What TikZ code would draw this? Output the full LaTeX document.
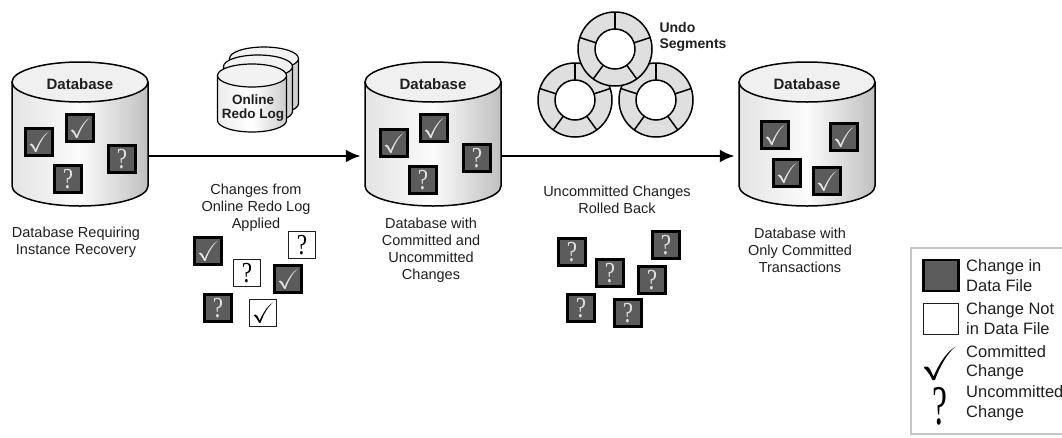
\documentclass[tikz,border=0pt]{standalone}
\usepackage{fontspec}
\setmainfont{Liberation Sans}
\newfontfamily\markfont{Liberation Serif}
\usetikzlibrary{calc, arrows.meta, positioning}

\definecolor{changegray}{gray}{0.36}
\definecolor{markpale}{gray}{0.88}
\definecolor{inkgray}{gray}{0.12}

\newcommand{\ask}{\scalebox{0.8}[1]{?}}

\tikzset{
  dbbody/.style={draw=black, line width=1.5pt, left color=gray!22, right color=gray!50, middle color=gray!3},
  dbtop/.style={draw=black, line width=1.5pt, fill=gray!12},
  dbname/.style={font=\bfseries\fontsize{15}{17}\selectfont, text=inkgray},
  dbframe/.style={inner sep=0pt, minimum width=136pt, minimum height=146pt},
  logbody/.style={draw=black, line width=1.2pt, left color=gray!15, right color=gray!40, middle color=white},
  logtop/.style={draw=black, line width=1.2pt, fill=gray!10},
  logname/.style={align=center, font=\bfseries\fontsize{13.5}{14.5}\selectfont, text=inkgray},
  change/.style={inner sep=0pt, minimum size=27pt, font=\markfont\fontsize{29}{30}\selectfont},
  indata/.style={change, draw=black, line width=2.6pt, fill=changegray, text=markpale},
  notindata/.style={change, draw=inkgray, line width=1.8pt, fill=white, text=black},
  flow/.style={line width=2.8pt, shorten >=4pt, -{Latex[length=15pt, width=13pt]}},
  caption/.style={align=center, text=inkgray, font=\fontsize{14.5}{17}\selectfont},
  segment/.style={draw=black, line width=1.5pt},
  key/.style={align=left, anchor=west, inner sep=0pt, text=inkgray, font=\fontsize{16.5}{19.5}\selectfont},
  tick/.pic={
    \fill[scale=28] (-0.33,0.08) .. controls (-0.29,0.03) and (-0.23,0.05) .. (-0.19,0.12)
      -- (-0.12,0.27) .. controls (0.00,0.00) and (0.15,-0.25) .. (0.35,-0.37)
      .. controls (0.17,-0.22) and (0.02,0.05) .. (-0.09,0.35)
      -- (-0.14,0.35) .. controls (-0.19,0.24) and (-0.25,0.15) .. (-0.33,0.08) -- cycle;
  }
}

\begin{document}
\begin{tikzpicture}[x=1pt, y=-1pt]
  \useasboundingbox (0,0) rectangle (1062,437);
  \clip (0,0) rectangle (1062,437);

  \def\dbr{68}
  \def\dbry{20}
  \def\dbtop{82}
  \def\dbh{104}

  \foreach \name/\cx in {db1/80, db2/433, db3/807} {
    \draw[dbbody] (\cx-\dbr,\dbtop) -- (\cx-\dbr,\dbtop+\dbh)
      arc[start angle=180, end angle=0, x radius=\dbr, y radius=\dbry] -- (\cx+\dbr,\dbtop);
    \draw[dbtop] (\cx,\dbtop) ellipse[x radius=\dbr, y radius=\dbry];
    \node[dbname] at (\cx,\dbtop+2) {Database};
    \node[dbframe] (\name) at (\cx,134) {};
  }

  % redo log files, back to front
  \foreach \dx/\dy in {12/-17, 6/-9, 0/0} {
    \begin{scope}[shift={(252+\dx,75.5+\dy)}]
      \draw[logbody] (-34.5,0) -- (-34.5,45)
        arc[start angle=180, end angle=0, x radius=34.5, y radius=11.5] -- (34.5,0);
      \draw[logtop] (0,0) ellipse[x radius=34.5, y radius=11.5];
    \end{scope}
  }
  \node[logname] (redo log) at (253,108) {Online\\Redo Log};

  % undo segments
  \foreach \name/\pos in {undo left/{575,100}, undo right/{656,100}, undo top/{615,49}} {
    \begin{scope}[shift={(\pos)}]
      \draw[segment, fill=gray!25] (0,0) circle[radius=37];
      \draw[segment, fill=white] (0,0) circle[radius=20];
      \foreach \a in {-90,-18,54,126,198}
        \draw[segment] (\a:20) -- (\a:37);
    \end{scope}
    \coordinate (\name) at (\pos);
  }
  \node[anchor=west, align=left, text=inkgray, font=\bfseries\fontsize{14}{15.5}\selectfont]
    (undo label) at (656,37) {Undo\\Segments};

  \coordinate (flow level) at (0,156);
  \draw[flow] (db1.east |- flow level) -- (db2.west |- flow level);
  \draw[flow] (db2.east |- flow level) -- (db3.west |- flow level);

  % changes written to the data files
  \foreach \name/\pos in {r1/{39,142}, r2/{80,128}, a1/{208,251}, a4/{288,279},
      m1/{394,143}, m2/{434,128}, c1/{775,135}, c2/{844,137}, c3/{787,173}, c4/{827,181}} {
    \node[indata] (\name) at (\pos) {};
    \pic[markpale] at (\name) {tick};
  }
  \foreach \name/\pos in {r3/{122,159}, r4/{68,179}, a5/{218,308}, m3/{477,158}, m4/{423,180},
      u1/{572,252}, u2/{666,245}, u3/{610,273}, u4/{652,280}, u5/{581,308}, u6/{628,313}}
    \node[indata] (\name) at (\pos) {\ask};

  % changes only in the redo log
  \foreach \name/\pos in {a2/{302,245}, a3/{247,273}}
    \node[notindata] (\name) at (\pos) {\ask};
  \node[notindata] (a6) at (263,313) {};
  \pic[black] at (a6) {tick};

  \node[caption] (db1 caption) at (76,242) {Database Requiring\\Instance Recovery};
  \node[caption] (applied caption) at (256,208) {Changes from\\Online Redo Log\\Applied};
  \node[caption] (db2 caption) at (431,250) {Database with\\Committed and\\Uncommitted\\Changes};
  \node[caption] (undone caption) at (617,200) {Uncommitted Changes\\Rolled Back};
  \node[caption] (db3 caption) at (800,250) {Database with\\Only Committed\\Transactions};

  % legend
  \draw[gray!45, line width=1.4pt] (911,248) rectangle (1080,434);
  \node[indata, minimum width=35pt, minimum height=31pt] (key filled) at (941,275.5) {};
  \node[notindata, minimum width=35pt, minimum height=31pt] (key empty) at (941,319) {};
  \coordinate (key tick) at (939,364);
  \pic[black, scale=1.65] at (key tick) {tick};
  \node[inner sep=0pt, font=\markfont\fontsize{56}{60}\selectfont] (key ask) at (940,406) {\scalebox{0.6}[1]{?}};
  \node[key] at (966,275.5) {Change in\\Data File};
  \node[key] at (966,318.5) {Change Not\\in Data File};
  \node[key] at (966,362.5) {Committed\\Change};
  \node[key] at (966,403) {Uncommitted\\Change};
\end{tikzpicture}
\end{document}
